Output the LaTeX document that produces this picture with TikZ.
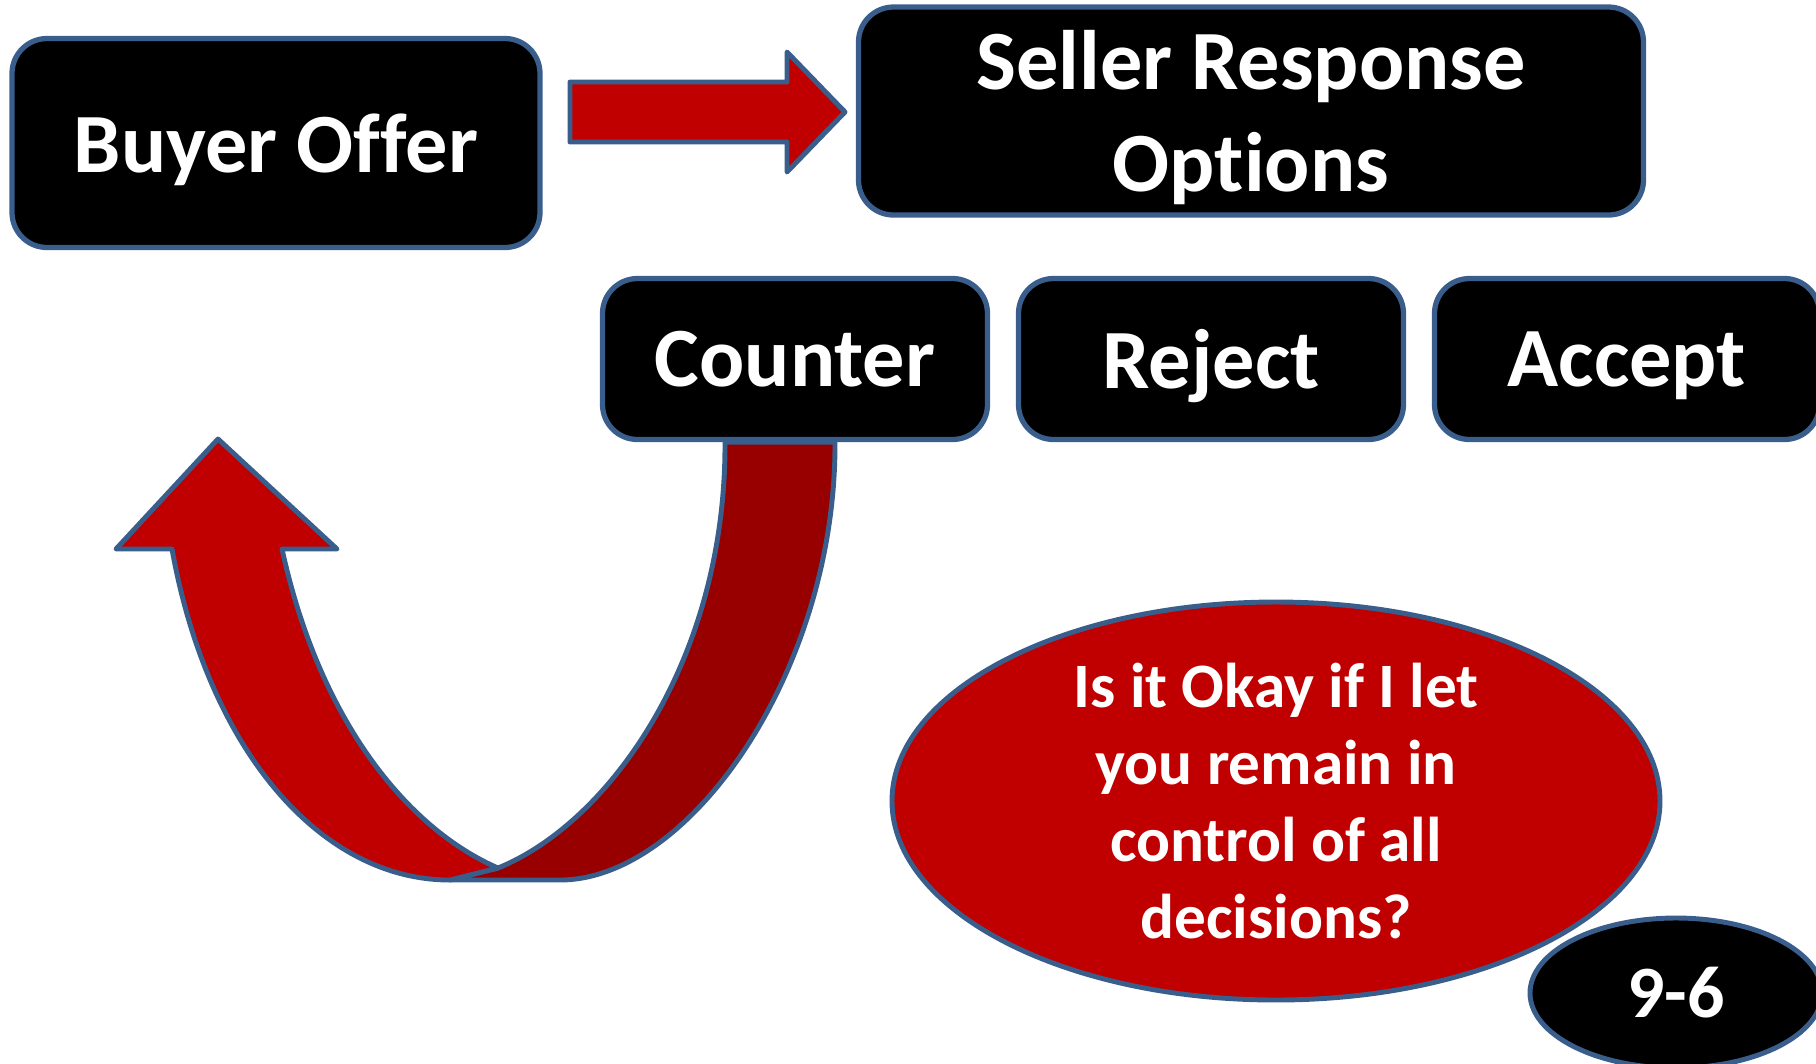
\documentclass[tikz,border=0pt]{standalone}
\usepackage{fontspec}
\setmainfont{Carlito}[Ligatures=NoCommon]
\usetikzlibrary{calc}
\usetikzlibrary{shapes.geometric}
\definecolor{edgeblue}{RGB}{58,94,140}
\definecolor{offerred}{RGB}{192,0,0}
\definecolor{backred}{RGB}{152,0,0}

\tikzset{
  optbox/.style={draw=edgeblue, line width=1.5pt, fill=black, rounded corners=3.5mm,
    text=white, align=center, inner sep=0pt, text depth=0pt, font=\bfseries\fontsize{24}{29}\selectfont},
  blockarrow/.style={draw=edgeblue, line width=1.4pt, fill=offerred, line join=round},
  bubble/.style={ellipse, draw=edgeblue, line width=1.4pt, inner sep=0pt, text=white, align=center}
}

\begin{document}
\begin{tikzpicture}[x=0.1mm, y=-0.1mm]
\useasboundingbox (0,0) rectangle (1816,1063);

\node[optbox, minimum width=52.8mm, minimum height=20.9mm] (buyer) at (276,143) {Buyer Offer};
\node[optbox, minimum width=78.5mm, minimum height=20.8mm] (seller) at (1251,111) {Seller Response\\Options};
\node[optbox, minimum width=38.5mm, minimum height=16.1mm] (counter) at (795,359) {Counter};
\node[optbox, minimum width=38.5mm, minimum height=16.1mm] (reject) at (1211,359) {Reject};
\node[optbox, minimum width=38.5mm, minimum height=16.1mm] (accept) at (1627,359) {Accept};

% offer goes to the seller
\draw[blockarrow] (570,82) -- (787,82) -- (787,52) -- (845,112) -- (787,172) -- (787,142) -- (570,142) -- cycle;

% counter comes back round to the buyer
\draw[blockarrow, fill=backred] ($(counter.south)+(-70,0)$) .. controls (726,660) and (609,823) .. (498,868)
  -- (450,880) -- (560,880) .. controls (690,880) and (836,670) .. ($(counter.south)+(40,0)$) -- cycle;
\draw[blockarrow] (172,549) .. controls (208,749) and (320,880) .. (450,880) -- (498,868)
  .. controls (406,828) and (319,719) .. (282,549) -- (337,549) -- (218,439) -- (116,549) -- cycle;

\node[bubble, fill=offerred, minimum width=76.8mm, minimum height=39.8mm,
  font=\bfseries\fontsize{18}{22}\selectfont] (question) at (1276,801)
  {Is it Okay if I let\\you remain in\\control of all\\decisions?};
\node[bubble, fill=black, minimum width=29.2mm, minimum height=15mm,
  font=\bfseries\fontsize{21}{25}\selectfont] (slide) at (1676,993) {9-6};
\end{tikzpicture}
\end{document}
